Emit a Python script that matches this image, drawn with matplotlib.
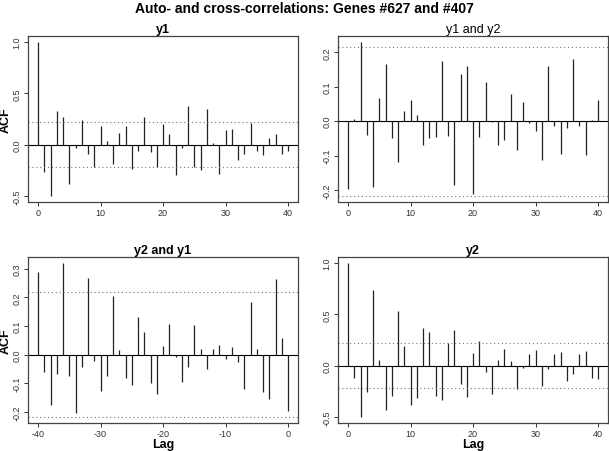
import numpy as np
import matplotlib.pyplot as plt
from matplotlib.ticker import MultipleLocator

plt.rcParams['font.family'] = ['Liberation Sans', 'DejaVu Sans']
plt.rcParams['axes.unicode_minus'] = False

# autocorrelation of y1, lags 0..40
acf_y1 = [1.0, -0.27, -0.50, 0.33, 0.265, -0.38, -0.03, 0.245, -0.09, -0.22,
          0.18, 0.035, -0.185, 0.115, 0.18, -0.235, -0.06, 0.265, -0.075, -0.215,
          0.20, 0.10, -0.30, -0.03, 0.38, -0.215, -0.245, 0.345, 0.013, -0.285,
          0.14, 0.15, -0.15, -0.09, 0.215, -0.065, -0.105, 0.06, 0.10, -0.095, -0.065]

# cross-correlation y1 and y2, lags 0..40
ccf_y1y2 = [-0.196, 0.007, 0.23, -0.039, -0.19, 0.068, 0.167, -0.05, -0.119, 0.03,
            0.062, 0.018, -0.069, -0.049, -0.045, 0.174, -0.042, -0.186, 0.136, 0.161,
            -0.212, -0.047, 0.115, -0.003, -0.068, -0.056, 0.08, -0.084, 0.057, -0.005,
            -0.028, -0.112, 0.162, -0.014, -0.096, -0.02, 0.182, -0.013, -0.098, 0.003, 0.062]

# cross-correlation y2 and y1, lags -40..0
ccf_y2y1 = [0.288, -0.06, -0.177, -0.069, 0.319, -0.074, -0.205, -0.044, 0.267, -0.021,
            -0.126, -0.075, 0.205, 0.016, -0.081, -0.106, 0.132, 0.08, -0.1, -0.137,
            0.029, 0.108, -0.007, -0.096, -0.044, 0.104, 0.021, -0.051, 0.019, 0.035,
            -0.016, 0.028, -0.027, -0.12, 0.183, 0.02, -0.132, -0.155, 0.265, 0.057, -0.196]

# autocorrelation of y2, lags 0..40
acf_y2 = [1.0, -0.123, -0.498, -0.256, 0.741, 0.055, -0.43, -0.291, 0.537, 0.197,
          -0.379, -0.311, 0.369, 0.327, -0.298, -0.337, 0.223, 0.346, -0.181, -0.304,
          0.12, 0.243, -0.065, -0.275, 0.058, 0.165, 0.042, -0.23, -0.023, 0.113,
          0.149, -0.194, -0.036, 0.11, 0.136, -0.149, -0.078, 0.113, 0.142, -0.12, -0.129]

ci = 0.217

lags_pos = np.arange(0, 41)
lags_neg = np.arange(-40, 1)

W, H = 609, 452
def box(x0, y0, x1, y1):
    return [x0 / W, 1 - y1 / H, (x1 - x0) / W, (y1 - y0) / H]

panels = [
    ('y1', 'bold', lags_pos, acf_y1, box(28, 37, 298, 203), 0.5),
    ('y1 and y2', 'normal', lags_pos, ccf_y1y2, box(338, 37, 608, 203), 0.1),
    ('y2 and y1', 'bold', lags_neg, ccf_y2y1, box(28, 258, 298, 424), 0.1),
    ('y2', 'bold', lags_pos, acf_y2, box(338, 258, 608, 424), 0.5),
]

fig = plt.figure(figsize=(6.09, 4.52), dpi=100)
fig.text(0.5, 1 - 9 / H, 'Auto- and cross-correlations: Genes #627 and #407',
         ha='center', va='center', fontsize=10, fontweight='bold')

for title, weight, lags, vals, pos, step in panels:
    ax = fig.add_axes(pos)
    vals = np.array(vals)
    ax.vlines(lags, 0, vals, color='#222222', linewidth=0.9)
    ax.axhline(0, color='black', linewidth=0.8)
    ax.axhline(ci, color='#777777', linewidth=0.8, linestyle=(0, (1, 2.5)))
    ax.axhline(-ci, color='#777777', linewidth=0.8, linestyle=(0, (1, 2.5)))
    lo = min(vals.min(), -ci)
    hi = max(vals.max(), ci)
    pad = 0.04 * (hi - lo)
    ax.set_ylim(lo - pad, hi + pad)
    ax.set_xlim(lags.min() - 1.6, lags.max() + 1.6)
    ax.set_xticks(np.arange(lags.min(), lags.max() + 1, 10))
    ax.yaxis.set_major_locator(MultipleLocator(step))
    ax.set_title(title, fontsize=9, fontweight=weight, pad=3)
    ax.tick_params(labelsize=6.5, length=3, width=0.7, colors='#333333', pad=1.5)
    for lbl in ax.get_yticklabels():
        lbl.set_rotation(90)
        lbl.set_va('center')
    for s in ax.spines.values():
        s.set_color('#444444')
        s.set_linewidth(0.9)

fig.text(6 / W, 1 - 120 / H, 'ACF', rotation=90, ha='center', va='center',
         fontsize=9, fontweight='bold')
fig.text(6 / W, 1 - 341 / H, 'ACF', rotation=90, ha='center', va='center',
         fontsize=9, fontweight='bold')
fig.text(163 / W, 1 - 445 / H, 'Lag', ha='center', va='center',
         fontsize=9, fontweight='bold')
fig.text(473 / W, 1 - 445 / H, 'Lag', ha='center', va='center',
         fontsize=9, fontweight='bold')

fig.savefig('out.png', dpi=100)
